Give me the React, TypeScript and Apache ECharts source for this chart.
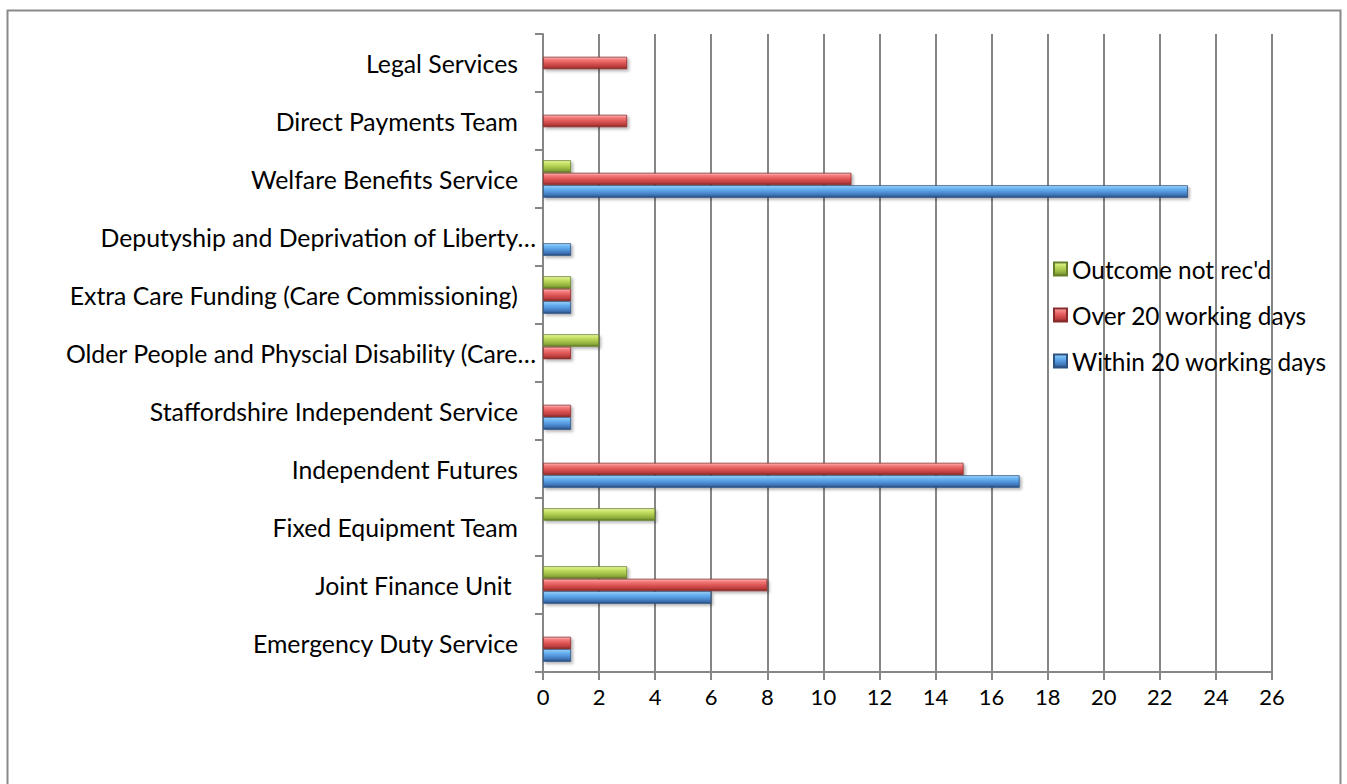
import React, { useEffect, useRef } from "react";
import * as echarts from "echarts";

const categories = [
  "Emergency Duty Service",
  "Joint Finance Unit ",
  "Fixed Equipment Team",
  "Independent Futures",
  "Staffordshire Independent Service",
  "Older People and Physcial Disability (Care…",
  "Extra Care Funding (Care Commissioning)",
  "Deputyship and Deprivation of Liberty…",
  "Welfare Benefits Service",
  "Direct Payments Team",
  "Legal Services",
];

const withinDays = [1, 6, 0, 17, 1, 0, 1, 1, 23, 0, 0];
const overDays = [1, 8, 0, 15, 1, 1, 1, 0, 11, 3, 3];
const notRecd = [0, 3, 4, 0, 0, 2, 1, 0, 1, 0, 0];

const seriesNames = ["Within 20 working days", "Over 20 working days", "Outcome not rec'd"];
const xTicks = [0, 26, 2];

const FONT = "Lato, 'Open Sans', sans-serif";

function grad(c: string[]) {
  return new echarts.graphic.LinearGradient(0, 0, 0, 1, [
    { offset: 0, color: c[0] },
    { offset: 0.18, color: c[1] },
    { offset: 0.5, color: c[2] },
    { offset: 0.82, color: c[3] },
    { offset: 1, color: c[4] },
  ]);
}

const blue = ["#b8e0fd", "#72bcf5", "#5599df", "#3d72b3", "#27497a"];
const red = ["#ffc4c4", "#f58080", "#e05656", "#b83c3c", "#7c2424"];
const green = ["#f2fcb4", "#d0e870", "#aecc50", "#8aa83c", "#5d7824"];

export default function App() {
  const ref = useRef<HTMLDivElement>(null);
  useEffect(() => {
    if (!ref.current) return;
    const chart = echarts.init(ref.current, undefined, { renderer: "svg" });
    const mk = (name: string, data: number[], c: string[], border: string) => ({
      name,
      type: "bar",
      data,
      barWidth: 12.5,
      barGap: "0%",
      itemStyle: {
        color: grad(c),
        borderColor: border,
        borderWidth: 0.8,
        shadowColor: "rgba(0,0,0,0.3)",
        shadowBlur: 3,
        shadowOffsetX: 2,
        shadowOffsetY: 2,
      },
    });
    const yData = categories.map((c) =>
      c.endsWith("…")
        ? { value: c, textStyle: { padding: [0, -18, 0, 0] } }
        : c
    );
    chart.setOption({
      animation: false,
      backgroundColor: "#ffffff",
      textStyle: { fontFamily: FONT },
      graphic: [
        {
          type: "rect",
          shape: { x: 7.5, y: 10.5, width: 1333, height: 800 },
          style: { fill: "none", stroke: "#8a8a8a", lineWidth: 2 },
          silent: true,
          z: -10,
        },
      ],
      grid: { left: 543, right: 75, top: 34, bottom: 112, containLabel: false },
      legend: {
        orient: "vertical",
        left: 1053,
        top: 257,
        icon: "rect",
        itemWidth: 13,
        itemHeight: 13,
        itemGap: 22,
        itemTextGap: 8,
        padding: 0,
        data: [seriesNames[2], seriesNames[1], seriesNames[0]],
        textStyle: { fontSize: 24.4, color: "#000", fontFamily: FONT },
      },
      xAxis: {
        type: "value",
        min: xTicks[0],
        max: xTicks[1],
        interval: xTicks[2],
        axisLine: { show: true, lineStyle: { color: "#868686", width: 2 } },
        axisTick: { show: true, length: 8, lineStyle: { color: "#868686", width: 2 } },
        splitLine: { show: true, lineStyle: { color: "#868686", width: 2 } },
        axisLabel: { fontSize: 22, color: "#000", margin: 13, fontFamily: FONT },
      },
      yAxis: {
        type: "category",
        data: yData,
        axisLine: { show: true, lineStyle: { color: "#868686", width: 2 } },
        axisTick: { show: true, length: 8, lineStyle: { color: "#868686", width: 2 } },
        axisLabel: { fontSize: 24.8, color: "#000", margin: 25, fontFamily: FONT },
      },
      series: [
        mk(seriesNames[2], notRecd, green, "#66802a"),
        mk(seriesNames[1], overDays, red, "#8a2c2c"),
        mk(seriesNames[0], withinDays, blue, "#2b5283"),
      ],
    });
    return () => chart.dispose();
  }, []);
  return (
    <div
      ref={ref}
      style={{ position: "absolute", left: 0, top: 0, width: 1347, height: 784 }}
    />
  );
}
